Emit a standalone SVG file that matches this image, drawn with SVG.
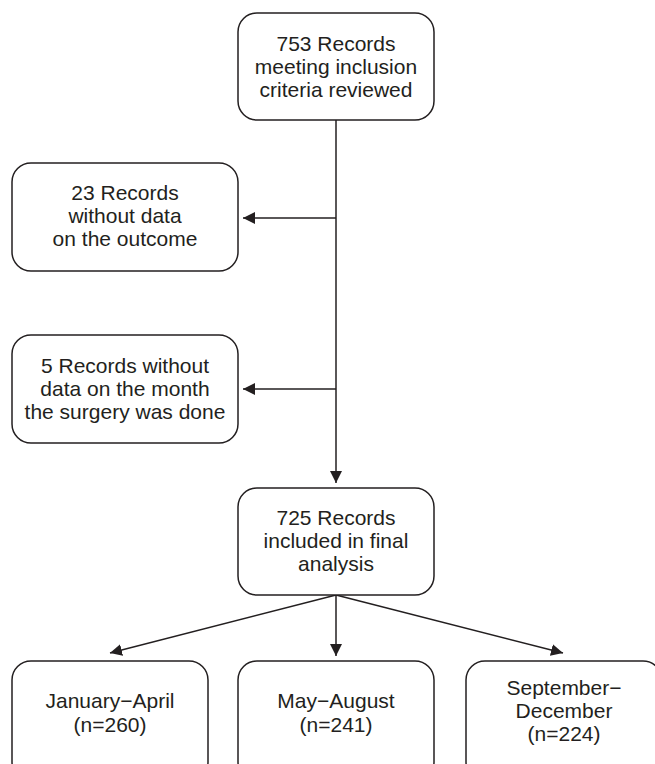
<svg xmlns="http://www.w3.org/2000/svg" width="655" height="764" viewBox="0 0 655 764">
<style>
.box{fill:#fff;stroke:#231f20;stroke-width:1.5}
.t{font-family:"Liberation Sans",Arial,sans-serif;font-size:21px;fill:#231f20;text-anchor:middle}
.c{fill:none;stroke:#231f20;stroke-width:1.5}
</style>
<defs>
<marker id="ah" viewBox="0 0 12 12" refX="12" refY="6" markerWidth="12" markerHeight="12" markerUnits="userSpaceOnUse" orient="auto">
<path d="M0,0 L12,6 L0,12 Z" fill="#231f20"/>
</marker>
</defs>
<rect width="655" height="764" fill="#fff"/>
<g id="connectors">
<line class="c" x1="336" y1="120" x2="336" y2="483" marker-end="url(#ah)"/>
<line class="c" x1="336" y1="218" x2="243" y2="218" marker-end="url(#ah)"/>
<line class="c" x1="336" y1="389" x2="243" y2="389" marker-end="url(#ah)"/>
<line class="c" x1="336" y1="595" x2="110" y2="653" marker-end="url(#ah)"/>
<line class="c" x1="336" y1="595" x2="336" y2="656" marker-end="url(#ah)"/>
<line class="c" x1="336" y1="595" x2="563" y2="653" marker-end="url(#ah)"/>
</g>
<g id="node-top">
<rect class="box" x="238" y="13" width="196" height="107" rx="19"/>
<text class="t" x="336" y="51">753 Records</text>
<text class="t" x="336" y="74">meeting inclusion</text>
<text class="t" x="336" y="97">criteria reviewed</text>
</g>
<g id="node-excl1">
<rect class="box" x="12" y="163" width="226" height="108" rx="19"/>
<text class="t" x="125" y="200">23 Records</text>
<text class="t" x="125" y="223">without data</text>
<text class="t" x="125" y="246">on the outcome</text>
</g>
<g id="node-excl2">
<rect class="box" x="12" y="335" width="226" height="108" rx="19"/>
<text class="t" x="125" y="373">5 Records without</text>
<text class="t" x="125" y="396">data on the month</text>
<text class="t" x="125" y="419">the surgery was done</text>
</g>
<g id="node-final">
<rect class="box" x="238" y="488" width="196" height="107" rx="19"/>
<text class="t" x="336" y="525">725 Records</text>
<text class="t" x="336" y="548">included in final</text>
<text class="t" x="336" y="571">analysis</text>
</g>
<g id="node-jan">
<rect class="box" x="12" y="661" width="196" height="120" rx="19"/>
<text class="t" x="110" y="708">January−April</text>
<text class="t" x="110" y="732">(n=260)</text>
</g>
<g id="node-may">
<rect class="box" x="238" y="661" width="196" height="120" rx="19"/>
<text class="t" x="336" y="708">May−August</text>
<text class="t" x="336" y="732">(n=241)</text>
</g>
<g id="node-sep">
<rect class="box" x="466" y="661" width="196" height="120" rx="19"/>
<text class="t" x="564" y="695">September−</text>
<text class="t" x="564" y="718">December</text>
<text class="t" x="564" y="741">(n=224)</text>
</g>
</svg>
